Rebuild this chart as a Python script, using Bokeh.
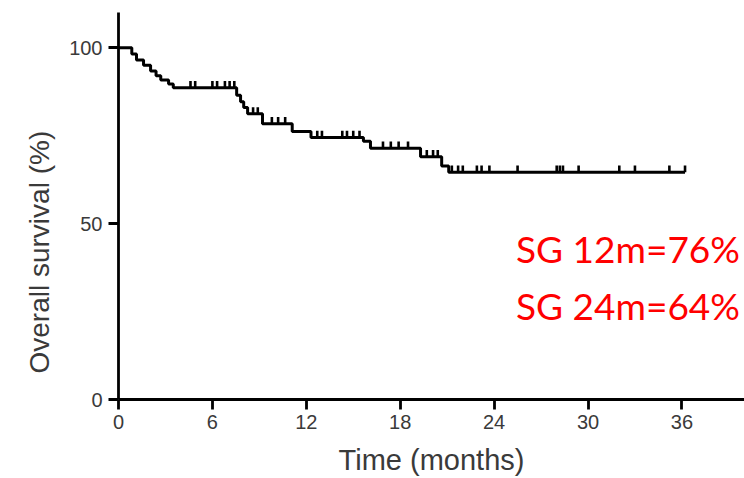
import numpy as np
from bokeh.plotting import figure
from bokeh.models import Label, Range1d, FixedTicker, Title
from bokeh.embed import file_html
from bokeh.resources import INLINE

# Kaplan-Meier data (months, % surviving after each event)
event_times = [0.85, 1.15, 1.6, 2.05, 2.4, 2.7, 3.2, 3.5, 7.55, 7.8, 8.0, 8.25,
               9.2, 11.1, 12.3, 15.65, 16.1, 19.3, 20.65, 21.1]
survival = [98.2, 96.5, 95.0, 93.4, 92.0, 90.8, 89.7, 88.6, 86.5, 84.6, 83.0, 81.2,
            78.4, 76.2, 74.5, 73.4, 71.4, 69.0, 66.4, 64.6]
follow_up_end = 36.2
censor_times = [4.6, 4.9, 6.0, 6.3, 6.8, 7.1, 7.4, 8.6, 8.9, 9.8, 10.2, 10.65,
                12.7, 13.0, 14.3, 14.6, 15.0, 15.4, 16.9, 17.4, 17.9, 18.5,
                19.7, 20.1, 20.4, 21.3, 21.7, 22.0, 22.9, 23.2, 23.7, 25.5,
                28.0, 28.2, 28.4, 29.4, 32.0, 33.0, 35.2, 36.2]
x_ticks = [0, 6, 12, 18, 24, 30, 36]
y_ticks = [0, 50, 100]
annotations = ["SG 12m=76%", "SG 24m=64%"]

step_x = [0.0] + event_times + [follow_up_end]
step_y = [100.0] + survival + [survival[-1]]

# survival level at each censor time
ct = np.array(censor_times)
idx = np.searchsorted(np.array(step_x), ct, side="right") - 1
censor_y = np.array(step_y)[idx]

p = figure(width=744, height=478, output_backend="svg", toolbar_location=None,
           x_range=Range1d(0, 40), y_range=Range1d(0, 110),
           min_border_left=118, min_border_right=0, min_border_top=12,
           min_border_bottom=79)
p.outline_line_color = None
p.xgrid.visible = False
p.ygrid.visible = False
p.background_fill_color = "white"
p.border_fill_color = "white"

p.step(step_x, step_y, mode="after", line_color="black", line_width=3)
p.segment(x0=ct, y0=censor_y, x1=ct, y1=censor_y + 1.9, line_color="black", line_width=2.6)

for ax in (p.xaxis[0], p.yaxis[0]):
    ax.axis_line_width = 2.8
    ax.axis_line_color = "black"
    ax.major_tick_line_width = 2.8
    ax.major_tick_line_color = "black"
    ax.major_tick_out = 10
    ax.major_tick_in = 0
    ax.minor_tick_line_color = None
    ax.major_label_text_font = "Liberation Sans"
    ax.major_label_text_font_size = "20px"
    ax.major_label_text_color = "#3a3a3a"

p.xaxis.ticker = FixedTicker(ticks=x_ticks)
p.yaxis.ticker = FixedTicker(ticks=y_ticks)
p.xaxis.major_label_standoff = 5
p.yaxis.major_label_standoff = 6
p.xaxis.axis_label = "Time (months)"
p.xaxis.axis_label_text_font = "Liberation Sans"
p.xaxis.axis_label_text_font_style = "normal"
p.xaxis.axis_label_text_font_size = "29px"
p.xaxis.axis_label_text_color = "#3a3a3a"
p.xaxis.axis_label_standoff = 12

ytitle = Title(text="Overall survival (%)", align="left", offset=26,
               text_font="Liberation Sans", text_font_size="28px",
               text_font_style="normal", text_color="#3a3a3a", standoff=23)
p.add_layout(ytitle, "left")

for txt, yy in zip(annotations, [42.9, 26.7]):
    p.add_layout(Label(x=25.4, y=yy, text=txt, text_align="left",
                       text_baseline="alphabetic", text_font="Lato",
                       text_font_size="37px", text_color="#ff0000"))

open("out.html", "w").write(file_html(p, INLINE))
